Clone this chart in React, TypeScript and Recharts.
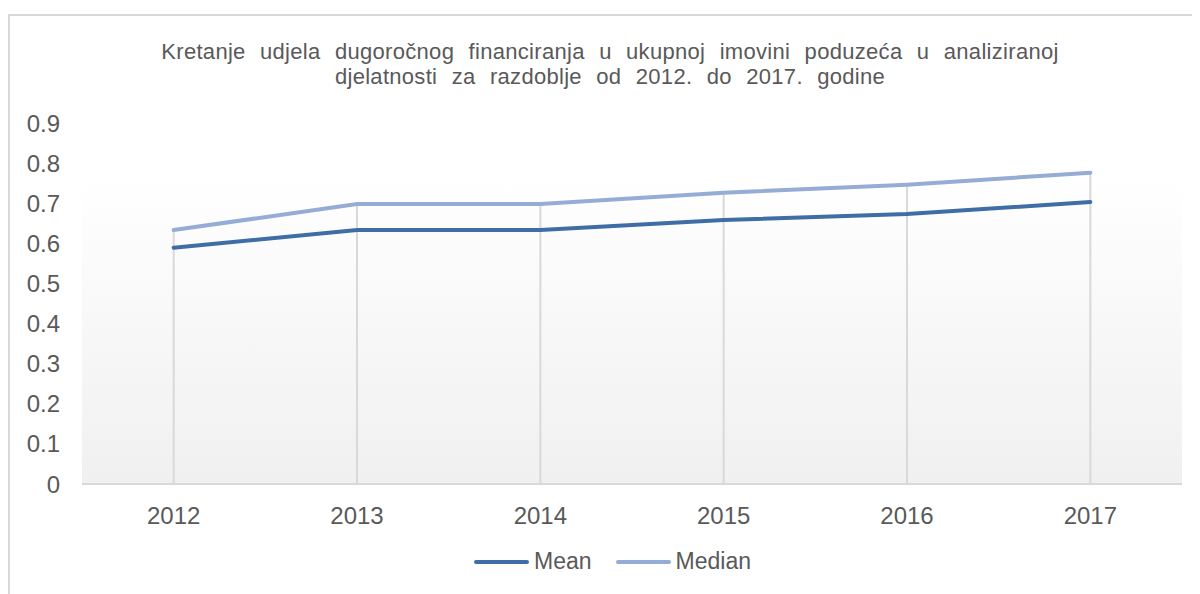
import { LineChart, Line, XAxis, YAxis, ReferenceLine, ReferenceArea } from 'recharts';

const years = ['2012', '2013', '2014', '2015', '2016', '2017'];
const meanValues = [0.589, 0.633, 0.633, 0.658, 0.673, 0.703];
const medianValues = [0.633, 0.698, 0.698, 0.726, 0.746, 0.776];
const yTicks = [0, 0.1, 0.2, 0.3, 0.4, 0.5, 0.6, 0.7, 0.8, 0.9];
const seriesNames = ['Mean', 'Median'];
const seriesColors = ['#3f6da5', '#95acd6'];

const titleLines = [
  'Kretanje udjela dugoročnog financiranja u ukupnoj imovini poduzeća u analiziranoj',
  'djelatnosti za razdoblje od 2012. do 2017. godine',
];

const data = years.map((year, i) => ({ year, mean: meanValues[i], median: medianValues[i] }));

const font = '"Liberation Sans", Arial, sans-serif';
const textColor = '#595959';

export default function App() {
  return (
    <div style={{ position: 'relative', width: 1192, height: 586, overflow: 'hidden', fontFamily: font }}>
      <svg width={0} height={0} style={{ position: 'absolute' }}>
        <defs>
          <linearGradient id="plotBg" x1="0" y1="0" x2="0" y2="1">
            <stop offset="0%" stopColor="#ffffff" />
            <stop offset="15%" stopColor="#ffffff" />
            <stop offset="100%" stopColor="#f0f0f0" />
          </linearGradient>
        </defs>
      </svg>
      <div
        style={{
          position: 'absolute',
          left: 0,
          top: 6,
          width: 1300,
          height: 700,
          border: '2px solid #d9d9d9',
          boxSizing: 'border-box',
        }}
      />
      <div
        style={{
          position: 'absolute',
          left: 0,
          top: 31,
          width: 1204,
          textAlign: 'center',
          color: textColor,
          fontSize: 22,
          lineHeight: '25px',
          letterSpacing: 0.3,
          wordSpacing: 8,
        }}
      >
        {titleLines.map((t) => (
          <div key={t}>{t}</div>
        ))}
      </div>
      <div style={{ position: 'absolute', left: 0, top: 0 }}>
        <LineChart width={1192} height={586} data={data} margin={{ top: 115, right: 18, bottom: 80, left: 0 }}>
          <ReferenceArea y1={0} y2={0.9} fill="url(#plotBg)" fillOpacity={1} stroke="none" />
          <XAxis
            dataKey="year"
            scale="band"
            axisLine={{ stroke: '#d9d9d9', strokeWidth: 2 }}
            tickLine={false}
            tickMargin={17}
            tick={{ fill: textColor, fontSize: 24, fontFamily: font }}
          />
          <YAxis
            domain={[0, 0.9]}
            ticks={yTicks}
            width={74}
            axisLine={false}
            tickLine={false}
            tickMargin={16}
            tick={{ fill: textColor, fontSize: 24, fontFamily: font }}
          />
          {years.map((y, i) => (
            <ReferenceLine
              key={y}
              segment={[
                { x: y, y: 0 },
                { x: y, y: Math.max(meanValues[i], medianValues[i]) },
              ]}
              stroke="#d9d9d9"
              strokeWidth={2}
            />
          ))}
          <Line
            dataKey="median"
            name={seriesNames[1]}
            stroke={seriesColors[1]}
            strokeWidth={4}
            strokeLinecap="round"
            dot={false}
            activeDot={false}
            isAnimationActive={false}
          />
          <Line
            dataKey="mean"
            name={seriesNames[0]}
            stroke={seriesColors[0]}
            strokeWidth={4}
            strokeLinecap="round"
            dot={false}
            activeDot={false}
            isAnimationActive={false}
          />
        </LineChart>
      </div>
      <div
        style={{
          position: 'absolute',
          left: 466,
          top: 540,
          display: 'flex',
          alignItems: 'center',
          color: textColor,
          fontSize: 23,
        }}
      >
        {seriesNames.map((name, i) => (
          <div key={name} style={{ display: 'flex', alignItems: 'center', marginRight: 24 }}>
            <div style={{ width: 55, height: 4, borderRadius: 2, background: seriesColors[i], marginRight: 5 }} />
            <span>{name}</span>
          </div>
        ))}
      </div>
    </div>
  );
}
